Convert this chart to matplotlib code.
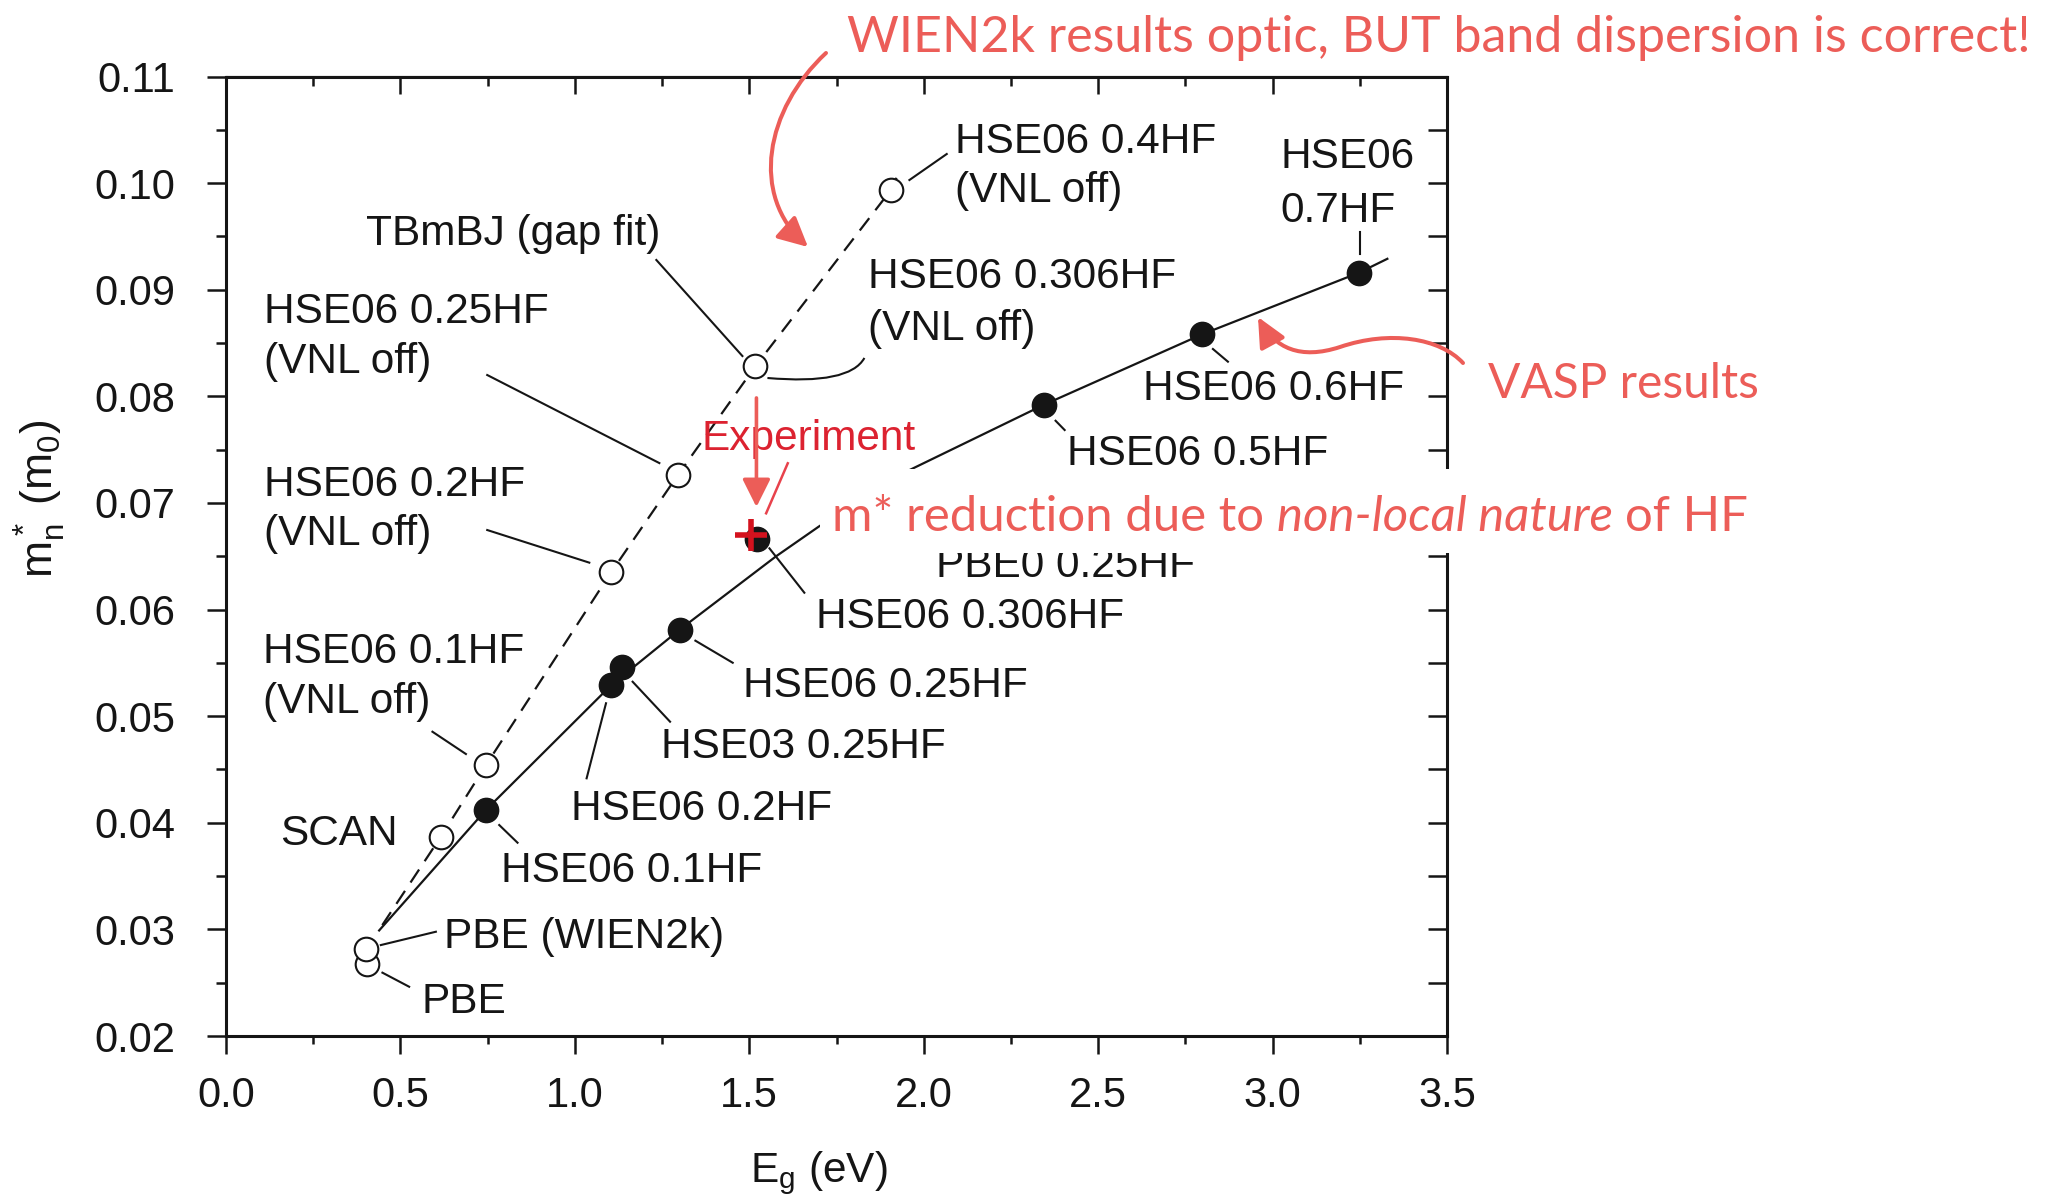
import numpy as np
import matplotlib
matplotlib.use("Agg")
import matplotlib.pyplot as plt
from matplotlib.patches import FancyArrowPatch, Rectangle, PathPatch
from matplotlib.path import Path

W, H = 2059, 1196

# open circles (WIEN2k / VNL off)
open_names = ["PBE", "PBE (WIEN2k)", "SCAN", "HSE06 0.1HF (VNL off)", "HSE06 0.2HF (VNL off)",
              "HSE06 0.25HF (VNL off)", "TBmBJ / HSE06 0.306HF (VNL off)", "HSE06 0.4HF (VNL off)"]
open_eg = [0.405, 0.401, 0.616, 0.745, 1.104, 1.295, 1.517, 1.907]
open_m = [0.0268, 0.0282, 0.0387, 0.0454, 0.0635, 0.0726, 0.0828, 0.0994]

# filled circles (VASP)
vasp_names = ["HSE06 0.1HF", "HSE06 0.2HF", "HSE03 0.25HF", "HSE06 0.25HF", "HSE06 0.306HF",
              "HSE06 0.5HF", "HSE06 0.6HF", "HSE06 0.7HF"]
vasp_eg = [0.745, 1.104, 1.135, 1.300, 1.521, 2.345, 2.797, 3.248]
vasp_m = [0.0412, 0.0529, 0.0546, 0.0581, 0.0666, 0.0792, 0.0858, 0.0916]

# experiment
exp_eg, exp_m = 1.505, 0.0670

# guide curves
vasp_fit_eg = [0.439, 0.745, 1.104, 1.300, 1.577, 1.700, 1.954, 2.344, 2.797, 3.248, 3.329]
vasp_fit_m = [0.0299, 0.0412, 0.0529, 0.0581, 0.0650, 0.0678, 0.0730, 0.0792, 0.0858, 0.0916, 0.0929]
wien_fit_eg = [0.448, 0.616, 0.745, 1.104, 1.295, 1.517, 1.907, 1.922]
wien_fit_m = [0.0304, 0.0387, 0.0454, 0.0635, 0.0726, 0.0828, 0.0994, 0.1005]

plt.rcParams["font.family"] = ["Liberation Sans", "DejaVu Sans"]
plt.rcParams["mathtext.fontset"] = "custom"
plt.rcParams["mathtext.rm"] = "Liberation Sans"
plt.rcParams["mathtext.it"] = "Liberation Sans"

ink = "#151515"
red = "#EC5D58"
FS = 30.5

fig = plt.figure(figsize=(W / 100, H / 100), dpi=100)
ax = fig.add_axes([226 / W, 1 - 1036 / H, (1447 - 226) / W, (1036 - 76.5) / H])


def fx(x):
    return x / W


def fy(y):
    return 1 - y / H


ax.plot(vasp_fit_eg, vasp_fit_m, color=ink, lw=1.6, zorder=2)
ax.plot(wien_fit_eg, wien_fit_m, color=ink, lw=1.6, ls=(0, (7, 4.5)), zorder=2)
ax.plot(open_eg, open_m, "o", ms=17, mfc="white", mec=ink, mew=1.5, ls="none", zorder=3)
ax.plot(vasp_eg, vasp_m, "o", ms=17.5, mfc=ink, mec=ink, ls="none", zorder=3)
ax.plot([exp_eg], [exp_m], "+", ms=23, mew=4, color="#D4121E", zorder=4)

# leader lines
leaders = [
    ((1.959, 0.10029), (2.066, 0.10273)),
    ((3.250, 0.09544), (3.250, 0.09335)),
    ((2.829, 0.08444), (2.872, 0.08325)),
    ((2.378, 0.07771), (2.404, 0.07684)),
    ((1.2336, 0.09279), (1.4803, 0.08378)),
    ((0.7488, 0.08200), (1.2422, 0.07374)),
    ((0.7488, 0.06746), (1.0414, 0.06440)),
    ((0.5918, 0.04854), (0.6877, 0.04645)),
    ((0.4438, 0.02853), (0.6016, 0.02978)),
    ((0.4484, 0.02594), (0.5250, 0.02462)),
    ((0.7832, 0.03979), (0.8357, 0.03813)),
    ((1.0893, 0.05121), (1.0337, 0.04417)),
    ((1.1656, 0.05323), (1.2729, 0.04948)),
    ((1.3455, 0.05708), (1.4525, 0.05501)),
    ((1.5578, 0.06574), (1.6578, 0.06158)),
]
for (x0, y0), (x1, y1) in leaders:
    ax.plot([x0, x1], [y0, y1], color=ink, lw=1.5, zorder=2)

curve = Path([(1.552, 0.08172), (1.787, 0.08106), (1.830, 0.08360)],
             [Path.MOVETO, Path.CURVE3, Path.CURVE3])
ax.add_patch(PathPatch(curve, fill=False, edgecolor=ink, lw=1.5, zorder=2))

# red leader for experiment
ax.plot([1.6103, 1.5483], [0.07372, 0.06903], color="#E8424C", lw=1.8, zorder=4)

labels = [
    ("HSE06 0.4HF", 2.089, 0.10282), ("(VNL off)", 2.089, 0.09823),
    ("HSE06", 3.024, 0.10142), ("0.7HF", 3.021, 0.09638),
    ("HSE06 0.6HF", 2.628, 0.07966),
    ("HSE06 0.5HF", 2.410, 0.07356),
    ("HSE06 0.306HF", 1.839, 0.09013), ("(VNL off)", 1.839, 0.08528),
    ("TBmBJ (gap fit)", 0.401, 0.09419),
    ("HSE06 0.25HF", 0.108, 0.08684), ("(VNL off)", 0.108, 0.08219),
    ("HSE06 0.2HF", 0.108, 0.07069), ("(VNL off)", 0.108, 0.06603),
    ("HSE06 0.1HF", 0.105, 0.05496), ("(VNL off)", 0.105, 0.05034),
    ("SCAN", 0.155, 0.03791),
    ("PBE (WIEN2k)", 0.625, 0.02823),
    ("PBE", 0.559, 0.02213),
    ("HSE06 0.1HF", 0.788, 0.03447),
    ("HSE06 0.2HF", 0.989, 0.04026),
    ("HSE03 0.25HF", 1.247, 0.04605),
    ("HSE06 0.25HF", 1.481, 0.05183),
    ("HSE06 0.306HF", 1.690, 0.05824),
    ("PBE0 0.25HF", 2.034, 0.06308),
]
for s, x, y in labels:
    ax.text(x, y, s, fontsize=FS, color=ink, ha="left", va="baseline", zorder=5)
ax.text(1.362, 0.07497, "Experiment", fontsize=FS, color="#DC2230", ha="left", va="baseline", zorder=5)

# experiment arrow
ax.add_patch(FancyArrowPatch((1.5205, 0.07985), (1.5205, 0.06962),
                             arrowstyle="-|>,head_length=17,head_width=8.5",
                             mutation_scale=1, shrinkA=0, shrinkB=0,
                             color=red, lw=2.6, zorder=6))

ax.set_xlim(0, 3.5)
ax.set_ylim(0.02, 0.11)
xt = np.arange(0, 3.51, 0.5)
yt = np.arange(0.02, 0.1101, 0.01)
ax.set_xticks(xt)
ax.set_xticklabels([f"{v:.1f}" for v in xt])
ax.set_xticks(np.arange(0.25, 3.5, 0.5), minor=True)
ax.set_yticks(yt)
ax.set_yticklabels([f"{v:.2f}" for v in yt])
ax.set_yticks(np.arange(0.025, 0.11, 0.01), minor=True)
ax.tick_params(which="both", direction="out", top=False, right=False,
               labelsize=30, colors=ink, width=1.8)
ax.tick_params(axis="x", which="major", length=13, pad=16)
ax.tick_params(axis="x", which="minor", length=6)
ax.tick_params(axis="y", which="major", length=13.7, pad=23)
ax.tick_params(axis="y", which="minor", length=7)
for sp in ax.spines.values():
    sp.set_linewidth(2.2)
    sp.set_color(ink)

top = ax.secondary_xaxis("top")
top.set_xticks(xt)
top.set_xticks(np.arange(0.25, 3.5, 0.5), minor=True)
top.tick_params(which="both", direction="in", labeltop=False, width=1.8, colors=ink)
top.tick_params(which="major", length=13)
top.tick_params(which="minor", length=7)
right = ax.secondary_yaxis("right")
right.set_yticks(yt)
right.set_yticks(np.arange(0.025, 0.11, 0.01), minor=True)
right.tick_params(which="both", direction="in", labelright=False, width=1.8, length=14, colors=ink)

fig.text(fx(819), fy(1182), r"E$_\mathregular{g}$ (eV)", fontsize=FS, color=ink, ha="center", va="baseline")
fig.text(fx(40), fy(499), r"m$^*_\mathregular{n}$ (m$_\mathregular{0}$)", fontsize=32, color=ink,
         rotation=90, ha="center", va="center")

# white patch and red annotations
fig.add_artist(Rectangle((fx(820), fy(553)), (1775 - 820) / W, (553 - 469) / H,
                         transform=fig.transFigure, facecolor="white", edgecolor="none", zorder=5))

rfam = ["Lato", "DejaVu Sans"]
rkw = dict(color=red, family=rfam, va="baseline", ha="left", zorder=8)
fig.text(fx(847), fy(51.7), "WIEN2k results optic, BUT band dispersion is correct!", fontsize=36.1, **rkw)
fig.text(fx(1488), fy(397.7), "VASP results", fontsize=34.5, **rkw)

RF = 35.4
renderer = fig.canvas.get_renderer()


def width_of(s, style="normal"):
    t = fig.text(0, 0, s, fontsize=RF, family=rfam, style=style)
    w = t.get_window_extent(renderer).width
    t.remove()
    return w


space = width_of("a a") - width_of("aa")
x = 832
for s, style in [("m* reduction due to", "normal"), ("non-local nature", "italic"), ("of HF", "normal")]:
    fig.text(fx(x), fy(531), s, style=style, fontsize=RF, **rkw)
    x += width_of(s, style) + space

# curved arrows
a1 = Path([(fx(826), fy(53)), (fx(765), fy(110)), (fx(750), fy(195)), (fx(808), fy(247))],
          [Path.MOVETO, Path.CURVE4, Path.CURVE4, Path.CURVE4])
fig.add_artist(FancyArrowPatch(path=a1, arrowstyle="-|>,head_length=18,head_width=9", mutation_scale=1,
                               transform=fig.transFigure, color=red, lw=2.9, zorder=9))
a2 = Path([(fx(1463), fy(363)), (fx(1440), fy(338)), (fx(1390), fy(330)), (fx(1340), fy(347)),
           (fx(1300), fy(360)), (fx(1275), fy(348)), (fx(1258), fy(317))],
          [Path.MOVETO, Path.CURVE4, Path.CURVE4, Path.CURVE4, Path.CURVE4, Path.CURVE4, Path.CURVE4])
fig.add_artist(FancyArrowPatch(path=a2, arrowstyle="-|>,head_length=18,head_width=8.5", mutation_scale=1,
                               transform=fig.transFigure, color=red, lw=2.9, zorder=9))

fig.savefig("out.png", dpi=100, facecolor="white")
